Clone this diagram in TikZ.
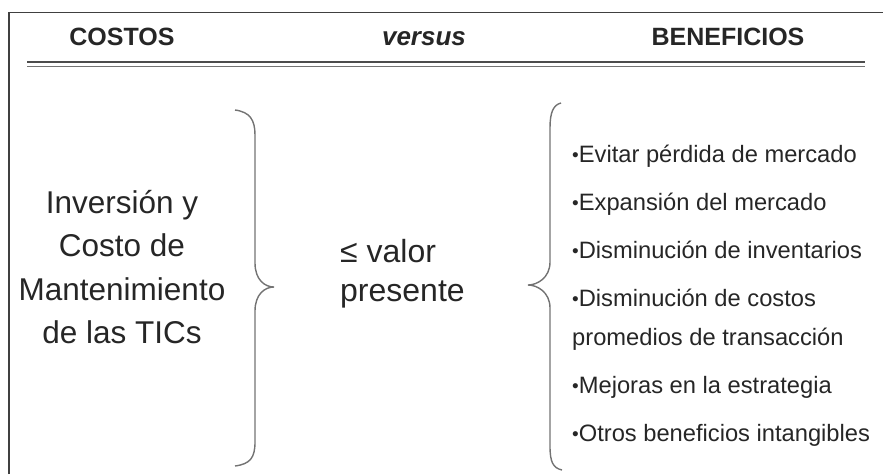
\documentclass[tikz,border=0pt]{standalone}
\usepackage{fontspec}
\setmainfont{Liberation Sans}
\usetikzlibrary{positioning}

\newcommand{\punto}{\raisebox{1pt}{\fontsize{19}{19}\selectfont\textbullet}}

\begin{document}
\begin{tikzpicture}[x=1pt,y=-1pt,
    titulo/.style={font=\fontsize{25}{30}\selectfont\bfseries, text=black!85, anchor=base, inner sep=0pt},
    bloque/.style={text=black!85, inner sep=0pt},
    llave/.style={draw=black!55, line width=1.4pt},
    marco/.style={draw=black!75, line width=1.3pt}]
  \useasboundingbox (0,0) rectangle (883,474);

  % marco y doble linea
  \draw[marco] (9,474) -- (9,12.5) -- (883,12.5);
  \draw[draw=black!70, line width=1.8pt] (27,62) -- (865,62);
  \draw[draw=black!55, line width=1.6pt] (27,66.5) -- (865,66.5);

  % encabezados
  \node[titulo] (costos)     at (122,45) {COSTOS};
  \node[titulo, font=\fontsize{26}{30}\selectfont\bfseries\itshape] (versus) at (424,45) {versus};
  \node[titulo] (beneficios) at (728,45) {BENEFICIOS};

  % costos
  \node[bloque, align=center, font=\fontsize{31.5}{43.5}\selectfont] (inversion) at (122,267)
    {Inversión y\\Costo de\\Mantenimiento\\de las TICs};

  % valor presente
  \node[bloque, align=left, anchor=west, font=\fontsize{32}{39}\selectfont] (valor) at (340,274)
    {≤ valor\\presente};

  % beneficios
  \node[bloque, align=left, anchor=north west, font=\fontsize{23.7}{39}\selectfont] (lista) at (572,145)
    {\punto Evitar pérdida de mercado\\[9pt]
     \punto Expansión del mercado\\[9pt]
     \punto Disminución de inventarios\\[9pt]
     \punto Disminución de costos\\
     promedios de transacción\\[9pt]
     \punto Mejoras en la estrategia\\[9pt]
     \punto Otros beneficios intangibles};

  % llaves
  \draw[llave] (235,110) .. controls (250,112) and (255,120) .. (255,135)
    -- (255,263) .. controls (255,280) and (265,287) .. (274,287)
    .. controls (265,287) and (255,294) .. (255,311)
    -- (255,442) .. controls (255,458) and (250,464) .. (235,466);
  \draw[llave] (561,103) .. controls (553,105) and (550,113) .. (550,128)
    -- (550,262) .. controls (550,278) and (537,285) .. (528,285)
    .. controls (537,285) and (550,292) .. (550,308)
    -- (550,446) .. controls (550,462) and (553,468) .. (562,470);
\end{tikzpicture}
\end{document}
